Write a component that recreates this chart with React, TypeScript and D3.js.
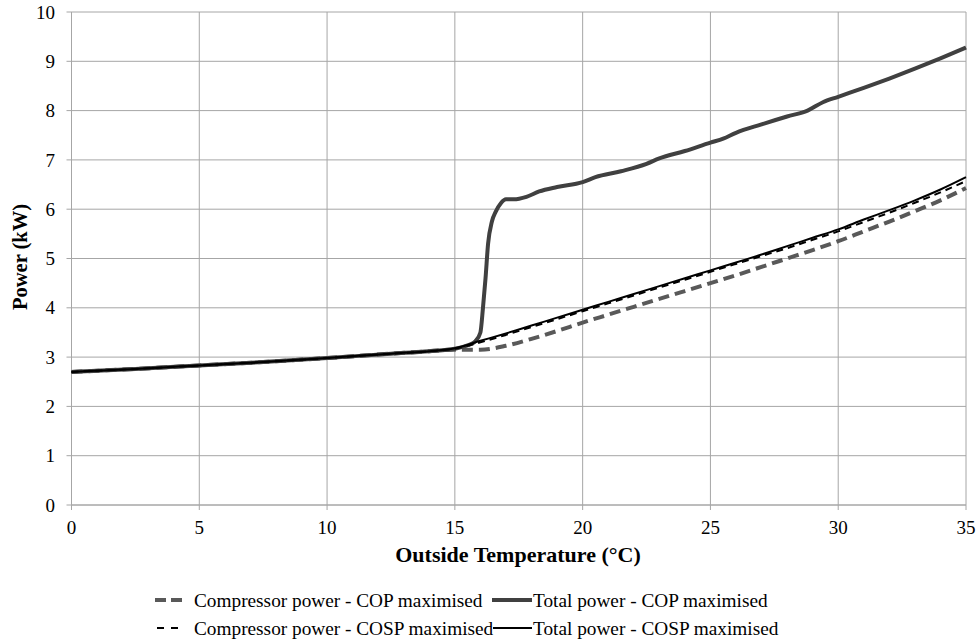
import React from "react";
import * as d3 from "d3";

const xTicks = [0, 5, 10, 15, 20, 25, 30, 35];
const yTicks = [0, 1, 2, 3, 4, 5, 6, 7, 8, 9, 10];

const totalCopX = [0, 2.5, 5, 7.5, 10, 12.5, 14, 15, 15.5, 15.8, 16.0, 16.1, 16.2, 16.3, 16.45, 16.6, 16.8, 17.0, 17.3, 17.8, 18.3, 19, 20, 20.5, 21.5, 22.5, 23, 24, 25, 25.5, 26, 27, 28, 28.8, 29.4, 30, 31, 32, 33, 34, 35];
const totalCopY = [2.7, 2.76, 2.83, 2.9, 2.98, 3.07, 3.12, 3.17, 3.24, 3.32, 3.5, 4.0, 4.6, 5.3, 5.75, 5.95, 6.12, 6.2, 6.2, 6.25, 6.36, 6.45, 6.55, 6.65, 6.77, 6.92, 7.03, 7.18, 7.35, 7.43, 7.55, 7.72, 7.88, 8.0, 8.17, 8.28, 8.46, 8.65, 8.85, 9.06, 9.28];

const baseX = [0, 2.5, 5, 7.5, 10, 12.5, 14, 15, 16, 17, 18, 19, 20, 21, 22, 23, 24, 25, 26, 27, 28, 29, 30, 31, 32, 33, 34, 35];
const compCopY = [2.7, 2.76, 2.83, 2.9, 2.98, 3.07, 3.12, 3.15, 3.15, 3.23, 3.37, 3.53, 3.7, 3.86, 4.02, 4.18, 4.34, 4.5, 4.66, 4.83, 5.0, 5.17, 5.35, 5.55, 5.75, 5.96, 6.18, 6.43];
const compCospY = [2.7, 2.76, 2.83, 2.9, 2.98, 3.07, 3.12, 3.17, 3.3, 3.45, 3.61, 3.77, 3.93, 4.09, 4.25, 4.41, 4.57, 4.73, 4.89, 5.05, 5.21, 5.38, 5.55, 5.74, 5.93, 6.13, 6.34, 6.57];
const totalCospY = [2.7, 2.76, 2.83, 2.9, 2.98, 3.07, 3.12, 3.18, 3.33, 3.48, 3.64, 3.8, 3.96, 4.12, 4.28, 4.44, 4.6, 4.76, 4.92, 5.08, 5.25, 5.42, 5.59, 5.79, 5.98, 6.18, 6.4, 6.65];

const seriesNames = [
  "Compressor power - COP maximised",
  "Total power - COP maximised",
  "Compressor power - COSP maximised",
  "Total power - COSP maximised",
];

const W = 977;
const H = 643;
const left = 71.5;
const right = 966;
const top = 12;
const bottom = 505;
const font = "'Liberation Serif', 'Times New Roman', serif";

export default function App() {
  const x = d3.scaleLinear().domain([0, 35]).range([left, right]);
  const y = d3.scaleLinear().domain([0, 10]).range([bottom, top]);
  const line = d3
    .line<[number, number]>()
    .x((d) => x(d[0]))
    .y((d) => y(d[1]))
    .curve(d3.curveMonotoneX);

  const zip = (xs: number[], ys: number[]) => xs.map((v, i) => [v, ys[i]] as [number, number]);

  const series = [
    { name: seriesNames[0], data: zip(baseX, compCopY), stroke: "#595959", width: 4, dash: "11,6" },
    { name: seriesNames[1], data: zip(totalCopX, totalCopY), stroke: "#404040", width: 4, dash: "" },
    { name: seriesNames[2], data: zip(baseX, compCospY), stroke: "#000000", width: 2, dash: "7,5" },
    { name: seriesNames[3], data: zip(baseX, totalCospY), stroke: "#000000", width: 2, dash: "" },
  ];

  const gridColor = "#a6a6a6";

  const legendPos = [
    { sx: 155, ex: 186, tx: 194, ty: 600 },
    { sx: 492, ex: 532, tx: 533, ty: 600 },
    { sx: 157, ex: 184, tx: 194, ty: 628 },
    { sx: 493, ex: 532, tx: 533, ty: 628 },
  ];

  return (
    <svg width={W} height={H} style={{ position: "absolute", left: 0, top: 0, background: "#fff" }} fontFamily={font}>
      <rect width={W} height={H} fill="#fff" />
      {yTicks.map((t) => (
        <g key={"y" + t}>
          <line x1={left - 5} x2={right} y1={y(t)} y2={y(t)} stroke={gridColor} strokeWidth={1} />
          <text x={55} y={y(t)} dy="0.35em" textAnchor="end" fontSize={19} fill="#000">
            {t}
          </text>
        </g>
      ))}
      {xTicks.map((t) => (
        <g key={"x" + t}>
          <line x1={x(t)} x2={x(t)} y1={top} y2={bottom + 5} stroke={gridColor} strokeWidth={1} />
          <text x={x(t)} y={527} dy="0.35em" textAnchor="middle" fontSize={19} fill="#000">
            {t}
          </text>
        </g>
      ))}
      <line x1={left} x2={left} y1={top} y2={bottom} stroke={gridColor} strokeWidth={1} />
      <line x1={left} x2={right} y1={bottom} y2={bottom} stroke={gridColor} strokeWidth={1} />

      {series.map((s) => (
        <path
          key={s.name}
          d={line(s.data) || ""}
          fill="none"
          stroke={s.stroke}
          strokeWidth={s.width}
          strokeDasharray={s.dash || undefined}
          strokeLinejoin="round"
        />
      ))}

      <text x={518} y={554} dy="0.35em" textAnchor="middle" fontSize={22} fontWeight="bold" fill="#000">
        Outside Temperature (°C)
      </text>
      <text
        transform={`translate(20,257) rotate(-90)`}
        dy="0.35em"
        textAnchor="middle"
        fontSize={20.5}
        fontWeight="bold"
        fill="#000"
      >
        Power (kW)
      </text>

      {series.map((s, i) => {
        const p = legendPos[i];
        return (
          <g key={"lg" + i}>
            <line
              x1={p.sx}
              x2={p.ex}
              y1={p.ty}
              y2={p.ty}
              stroke={s.stroke}
              strokeWidth={s.width}
              strokeDasharray={s.dash ? (s.width > 3 ? "11,5" : "7,7") : undefined}
            />
            <text x={p.tx} y={p.ty} dy="0.35em" fontSize={19.3} fill="#000">
              {s.name}
            </text>
          </g>
        );
      })}
    </svg>
  );
}
